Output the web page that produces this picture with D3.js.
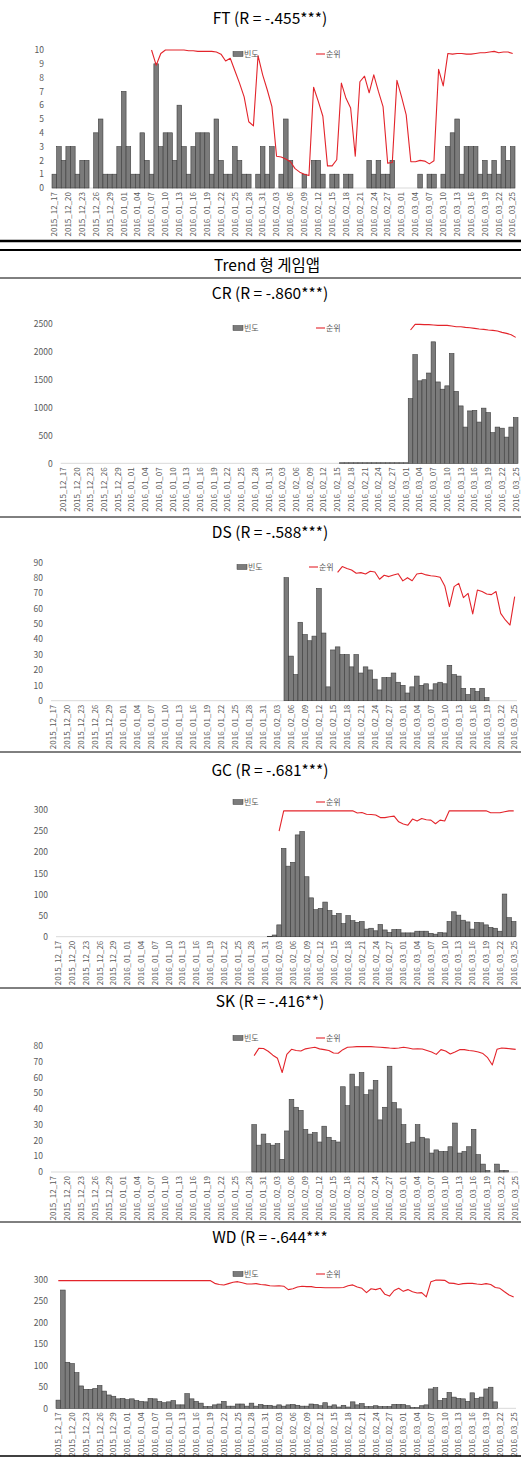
<!DOCTYPE html>
<html><head><meta charset="utf-8">
<script src="https://cdn.jsdelivr.net/npm/d3@7"></script>
<style>body{margin:0;background:#fff}svg{display:block}</style>
</head><body>
<svg id="c" width="521" height="1458"></svg>
<script>
// ---------- DATA ----------
const tickLabels = ["2015_12_17","2015_12_20","2015_12_23","2015_12_26","2015_12_29","2016_01_01","2016_01_04","2016_01_07","2016_01_10","2016_01_13","2016_01_16","2016_01_19","2016_01_22","2016_01_25","2016_01_28","2016_01_31","2016_02_03","2016_02_06","2016_02_09","2016_02_12","2016_02_15","2016_02_18","2016_02_21","2016_02_24","2016_02_27","2016_03_01","2016_03_04","2016_03_07","2016_03_10","2016_03_13","2016_03_16","2016_03_19","2016_03_22","2016_03_25"];
const fmt = d3.utcFormat("%Y_%m_%d");
const categories = d3.utcDay.range(new Date(Date.UTC(2015,11,17)), new Date(Date.UTC(2016,2,26))).map(fmt);

const titles = ["FT (R = -.455***)","CR (R = -.860***)","DS (R = -.588***)","GC (R = -.681***)","SK (R = -.416**)","WD (R = -.644***"];
const groupTitle = "Trend 형 게임앱";
const legendBar = "빈도", legendLine = "순위";

// FT 빈도 (frequency) and 순위 (rank line, read against left axis)
const ftBars = [1,3,2,3,3,1,2,2,0,4,5,1,1,1,3,7,3,1,1,4,2,1,9,3,4,4,2,6,3,1,3,4,4,4,1,5,2,1,1,3,2,1,1,0,1,3,1,3,
  0,1,5,2,0,0,1,0,2,2,1,0, 1,1,0,1,1,0,0,0,2,1, 2,1,1,2,0,0,0,0,0,1, 0,1,1,0,1,3,4,5,1,3, 3,3,1,2,1,2,1,3,2,3];
const ftLineStart = 21;
const ftLineVals = [10,8.9,9.75,10,10,10,10,10,9.95,9.95,9.9,9.9,9.9,9.9,9.85,9.7,9.2,9.4,8.5,7.6,6.6,4.8,4.5,9.6,8.2,7.1,5.9,
  2.3,2.25,2.1,1.9,1.4,1.15,1.0,0.9,7.3,6.3,5.2,1.6,1.6,2.05,7.6,6.5,5.8,2.3,7.7,8.1,6.9,8.2,7.0,5.9,1.8,1.85,7.8,6.6,5.3,
  1.9,1.9,2.0,1.95,1.75,1.98,8.6,7.4,9.75,9.7,9.75,9.75,9.7,9.7,9.75,9.8,9.8,9.85,9.9,9.8,9.85,9.85,9.75];

// CR
const crBarStart = 61;
const crBarVals = [10,10,10,10,10,10,10,10,10,10,10,10,10,10,10,
  1160,1950,1480,1500,1620,2180,1460,1330,1390,1970,1290,1030,650,940,950,740,990,910,550,650,630,470,650,820];
const crLineStart = 76;
const crLineVals = [2392,2494,2494,2488,2488,2482,2476,2476,2476,2464,2452,2452,2440,2434,2422,2410,2404,2392,2386,2374,2350,2332,2308,2260];

// DS
const dsBarStart = 50;
const dsBarVals = [80,29,17,51,43,39,42,73,44,9,33,35,30,30,22,30,18,22,20,14,7,15,15,18,12,10,5,9,16,10,11,7,11,12,11,23,17,16,8,4,8,6,8,2];
const dsLineStart = 61;
const dsLineVals = [83.5,87.2,86,85,82.9,83.3,82.4,84.2,83.7,79,81.6,80.7,81.8,82.6,77.9,80,78,82.4,82.9,81.8,81.3,80.9,80.3,74.6,61.2,74.2,76.3,67,69.8,56.4,72,71,69.4,69,71,56.8,52.5,49.2,67.7];

// GC
const gcBarStart = 46;
const gcBarVals = [1,4,28,209,167,176,241,249,142,92,64,67,82,62,50,55,31,50,38,34,36,18,20,14,29,16,10,17,17,9,9,9,13,13,13,8,6,10,9,36,59,51,39,35,18,34,33,28,22,20,13,101,45,36];
const gcLineStart = 48;
const gcLineVals = [250,298,298,298,298,298,298,298,298,298,298,298,298,298,298,298,298,
  293,294,290,289.5,288,282,282,284,285.6,272,267,264,278.5,274,280,277,276,267.5,276,274,
  298,298,298,298,298,298,298,298,298,293.5,293.5,293.5,296,298,298];

// SK
const skBarStart = 43;
const skBarVals = [30,17,24,18,17,18,8,26,46,41,39,27,24,25,19,29,22,20,19,54,42,62,54,63,49,52,58,33,41,67,44,40,30,18,19,30,22,21,12,14,13,13,16,31,12,13,16,27,11,5,1,0,5,1,1,0,0];
const skLineStart = 43;
const skLineVals = [73.7,78.3,78.2,76.5,74,72,63,74.5,77.7,77,76.6,78,78.5,79,78,77.5,77,75.4,75.2,77.5,79,79.2,79.4,79.4,79.4,79.4,79.2,79,78.8,78.5,78.3,78.5,79,78.5,77.9,78,77.9,77,76,74.5,77.5,76.6,74.7,76,77.5,77.5,77,76.6,76,75,72.4,67.8,77.7,78.5,78.3,78,77.7];

// WD
const wdBarStart = 0;
const wdBarVals = [19,275,107,104,83,52,44,44,46,53,40,31,28,22,23,20,22,18,16,15,23,22,16,13,15,18,8,8,34,22,16,12,4,4,8,10,16,5,5,10,10,5,12,5,9,7,7,5,
  8,5,8,9,7,5,5,10,9,6,13,5,8,3,7,3,15,8,11,4,4,6,4,4,4,9,9,9,6,2,2,6,8,
  45,48,18,23,37,26,23,22,16,36,23,26,45,49,15];
const wdLineStart = 0;
const wdLineVals = [297,297,297,297,297,297,297,297,297,297,297,297,297,297,297,297,297,297,297,297,297,297,297,297,297,297,297,297,297,297,297,297,297,297,
  290.6,288,286.8,290,293,294.5,292,289,289,290,288,287,285,284.5,
  285,284,276,278,282,284,283,283,281,281,280.5,280.5,280.5,280.5,281,285,287,282,279,269,278,276,279,265,261,274,279,272,276,271,268,269,259,294.5,298,298,297.6,291,290.6,288,290,290.6,290.6,289,288,290,288,281,279,271,263.5,259];

const ftTicks = [0,1,2,3,4,5,6,7,8,9,10];
const crTicks = [0,500,1000,1500,2000,2500];
const dsTicks = [0,10,20,30,40,50,60,70,80,90];
const gcTicks = [0,50,100,150,200,250,300];
const skTicks = [0,10,20,30,40,50,60,70,80];
const wdTicks = [0,50,100,150,200,250,300];

// ---------- helpers ----------
function place(start, vals){ const a = new Array(categories.length).fill(null); vals.forEach((v,i)=>a[start+i]=v); return a; }

const panels = [
  {title:titles[0], bars:place(0,ftBars), line:place(ftLineStart,ftLineVals), ticks:ftTicks, top:50, base:188, L:52, R:515, titleY:24, legY:54, legA:233, legB:316},
  {title:titles[1], bars:place(crBarStart,crBarVals), line:place(crLineStart,crLineVals), ticks:crTicks, top:324, base:463.3, L:60.7, R:518, titleY:299, legY:328, legA:233, legB:316},
  {title:titles[2], bars:place(dsBarStart,dsBarVals), line:place(dsLineStart,dsLineVals), ticks:dsTicks, top:562.3, base:700.7, L:51, R:517, titleY:538, legY:567, legA:237, legB:309},
  {title:titles[3], bars:place(gcBarStart,gcBarVals), line:place(gcLineStart,gcLineVals), ticks:gcTicks, top:810, base:936.7, L:56, R:516, titleY:776, legY:802, legA:233, legB:316},
  {title:titles[4], bars:place(skBarStart,skBarVals), line:place(skLineStart,skLineVals), ticks:skTicks, top:1045.7, base:1172, L:51, R:518, titleY:1007, legY:1038, legA:233, legB:316},
  {title:titles[5], bars:place(wdBarStart,wdBarVals), line:place(wdLineStart,wdLineVals), ticks:wdTicks, top:1279.3, base:1408.3, L:56, R:516, titleY:1243, legY:1274, legA:233, legB:316}
];

const svg = d3.select("#c");
const FONT = "'Noto Sans CJK KR','Noto Sans',sans-serif";
const GREY = "#595959";
const tickSet = new Set(categories.filter((d,i)=>i%3===0));
const labelOf = new Map(categories.filter((d,i)=>i%3===0).map((d,k)=>[d,tickLabels[k]]));

panels.forEach(p=>{
  const g = svg.append("g");
  const x = d3.scaleBand().domain(categories).range([p.L,p.R]).padding(0);
  const y = d3.scaleLinear().domain([0,d3.max(p.ticks)]).range([p.base,p.top]);

  // title
  g.append("text").attr("x",270).attr("y",p.titleY).attr("text-anchor","middle")
    .attr("font-family",FONT).attr("font-size",15.5).attr("fill","#000").text(p.title);

  // baseline
  g.append("line").attr("x1",p.L).attr("x2",p.R).attr("y1",p.base).attr("y2",p.base)
    .attr("stroke","#d9d9d9").attr("stroke-width",1);

  // y axis
  const ya = g.append("g").attr("transform",`translate(${p.L},0)`)
    .call(d3.axisLeft(y).tickValues(p.ticks).tickSize(0).tickPadding(8).tickFormat(d3.format("d")));
  ya.select(".domain").remove();
  ya.selectAll("text").attr("font-family",FONT).attr("font-size",8.5).attr("fill",GREY);

  // x axis
  const xa = g.append("g").attr("transform",`translate(0,${p.base})`)
    .call(d3.axisBottom(x).tickValues(categories.filter(d=>tickSet.has(d))).tickSize(0).tickFormat(d=>labelOf.get(d)));
  xa.select(".domain").remove();
  xa.selectAll("text").attr("transform","rotate(-90)").attr("text-anchor","end")
    .attr("x",-4).attr("y",0).attr("dy","0.35em")
    .attr("font-family",FONT).attr("font-size",8).attr("fill",GREY);

  // bars
  const data = categories.map((c,i)=>({c, v:p.bars[i], r:p.line[i]}));
  g.append("g").selectAll("rect").data(data.filter(d=>d.v!=null && d.v>0)).join("rect")
    .attr("x",d=>x(d.c)).attr("width",x.bandwidth())
    .attr("y",d=>y(d.v)).attr("height",d=>y(0)-y(d.v))
    .attr("fill","#7b7b7b").attr("stroke","#3d3d3d").attr("stroke-width",0.6);

  // line
  const ln = d3.line().defined(d=>d.r!=null).x(d=>x(d.c)+x.bandwidth()/2).y(d=>y(d.r));
  g.append("path").datum(data).attr("d",ln).attr("fill","none")
    .attr("stroke","#e3242b").attr("stroke-width",1.1).attr("stroke-linejoin","round");

  // legend
  g.append("rect").attr("x",p.legA).attr("y",p.legY-2.5).attr("width",10).attr("height",5)
    .attr("fill","#7b7b7b").attr("stroke","#3d3d3d").attr("stroke-width",0.5);
  g.append("text").attr("x",p.legA+11).attr("y",p.legY).attr("dy","0.35em")
    .attr("font-family",FONT).attr("font-size",8).attr("fill",GREY).text(legendBar);
  g.append("line").attr("x1",p.legB).attr("x2",p.legB+9).attr("y1",p.legY).attr("y2",p.legY)
    .attr("stroke","#e3242b").attr("stroke-width",1.1);
  g.append("text").attr("x",p.legB+10).attr("y",p.legY).attr("dy","0.35em")
    .attr("font-family",FONT).attr("font-size",8).attr("fill",GREY).text(legendLine);
});

// separators and group title
const rules = [{y:241,w:2.5},{y:250,w:2},{y:278,w:1},{y:517,w:1},{y:752,w:1},{y:988,w:1},{y:1222,w:1},{y:1456,w:1.5}];
svg.append("g").selectAll("line").data(rules).join("line")
  .attr("x1",0).attr("x2",521).attr("y1",d=>d.y).attr("y2",d=>d.y)
  .attr("stroke","#000").attr("stroke-width",d=>d.w);
svg.append("text").attr("x",267).attr("y",271).attr("text-anchor","middle")
  .attr("font-family",FONT).attr("font-size",15.5).attr("fill","#000").text(groupTitle);
</script>
</body></html>
